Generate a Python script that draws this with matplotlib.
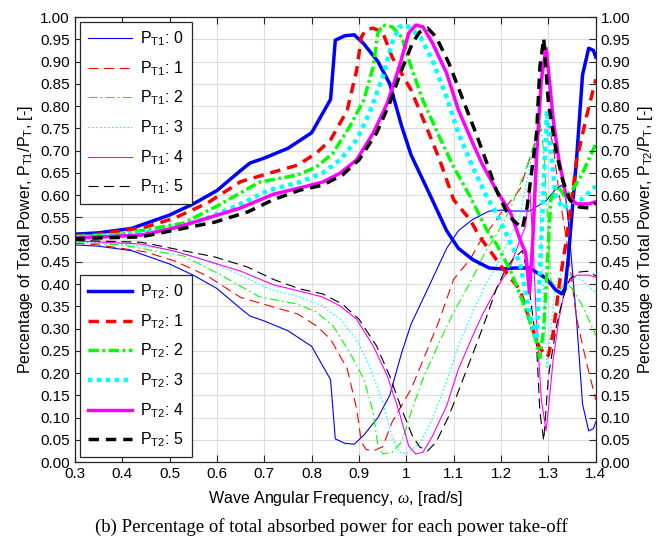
import numpy as np
import matplotlib
matplotlib.use('Agg')
import matplotlib.pyplot as plt

plt.rcParams['font.family'] = ['Liberation Sans', 'DejaVu Sans']
plt.rcParams['mathtext.fontset'] = 'custom'
plt.rcParams['mathtext.rm'] = 'Liberation Sans'
plt.rcParams['mathtext.it'] = 'Liberation Serif:italic'

# frequency grids (rad/s), one per take-off setting
w_0 = [0.30, 0.35, 0.42, 0.50, 0.55, 0.60, 0.65, 0.67, 0.70, 0.75, 0.80, 0.84, 0.85, 0.87, 0.89, 0.91,
       0.94, 0.965, 0.99, 1.01, 1.05, 1.085, 1.11, 1.14, 1.175, 1.20, 1.23, 1.26, 1.295, 1.315, 1.328,
       1.335, 1.342, 1.36, 1.372, 1.385, 1.395, 1.40]
w_1 = [0.30, 0.35, 0.45, 0.51, 0.58, 0.65, 0.72, 0.77, 0.81, 0.84, 0.875, 0.895, 0.905, 0.915, 0.93,
       0.95, 0.97, 1.01, 1.045, 1.07, 1.10, 1.135, 1.155, 1.18, 1.20, 1.24, 1.265, 1.28, 1.296, 1.30,
       1.31, 1.323, 1.338, 1.36, 1.38, 1.40]
w_2 = [0.30, 0.40, 0.46, 0.53, 0.60, 0.65, 0.69, 0.77, 0.81, 0.845, 0.88, 0.91, 0.93, 0.94, 0.95,
       0.97, 0.99, 1.01, 1.035, 1.07, 1.10, 1.135, 1.17, 1.19, 1.22, 1.255, 1.275, 1.282, 1.29, 1.298,
       1.305, 1.32, 1.335, 1.35, 1.37, 1.40]
w_3 = [0.30, 0.40, 0.49, 0.57, 0.64, 0.71, 0.775, 0.823, 0.86, 0.895, 0.922, 0.95, 0.97, 0.985, 1.00,
       1.03, 1.055, 1.085, 1.11, 1.14, 1.17, 1.19, 1.21, 1.24, 1.26, 1.275, 1.285, 1.297, 1.305, 1.315,
       1.33, 1.35, 1.37, 1.39, 1.40]
w_4 = [0.30, 0.44, 0.51, 0.58, 0.65, 0.72, 0.775, 0.823, 0.86, 0.895, 0.93, 0.96, 0.985, 1.005, 1.02,
       1.035, 1.055, 1.085, 1.11, 1.14, 1.16, 1.19, 1.22, 1.24, 1.252, 1.26, 1.267, 1.275, 1.285, 1.295,
       1.30, 1.31, 1.322, 1.337, 1.36, 1.385, 1.40]
w_5 = [0.30, 0.44, 0.51, 0.595, 0.665, 0.72, 0.775, 0.823, 0.865, 0.90, 0.937, 0.965, 0.99, 1.013,
       1.028, 1.045, 1.063, 1.09, 1.12, 1.15, 1.17, 1.19, 1.21, 1.225, 1.245, 1.255, 1.275, 1.282, 1.29,
       1.30, 1.317, 1.33, 1.345, 1.365, 1.385, 1.40]

# share of total power, PTO 1 (thin lines)
pt1_0 = [0.488, 0.485, 0.475, 0.445, 0.42, 0.39, 0.345, 0.328, 0.317, 0.295, 0.26, 0.185, 0.052, 0.042,
         0.04, 0.06, 0.10, 0.15, 0.245, 0.31, 0.40, 0.48, 0.52, 0.545, 0.564, 0.566, 0.564, 0.564, 0.587,
         0.613, 0.622, 0.61, 0.54, 0.31, 0.13, 0.07, 0.075, 0.09]
pt1_1 = [0.492, 0.488, 0.472, 0.452, 0.418, 0.37, 0.348, 0.333, 0.306, 0.276, 0.21, 0.12, 0.045, 0.028,
         0.025, 0.034, 0.09, 0.164, 0.254, 0.32, 0.411, 0.456, 0.494, 0.53, 0.56, 0.613, 0.697, 0.74,
         0.764, 0.76, 0.71, 0.60, 0.50, 0.32, 0.225, 0.14]
pt1_2 = [0.493, 0.488, 0.476, 0.463, 0.425, 0.395, 0.371, 0.355, 0.337, 0.306, 0.247, 0.187, 0.112,
         0.036, 0.018, 0.022, 0.045, 0.112, 0.187, 0.27, 0.337, 0.404, 0.479, 0.51, 0.57, 0.665, 0.733,
         0.766, 0.70, 0.55, 0.41, 0.38, 0.403, 0.39, 0.355, 0.285]
pt1_3 = [0.495, 0.49, 0.479, 0.456, 0.425, 0.389, 0.371, 0.351, 0.321, 0.276, 0.216, 0.135, 0.058,
         0.022, 0.018, 0.045, 0.097, 0.18, 0.261, 0.337, 0.404, 0.44, 0.485, 0.553, 0.665, 0.726, 0.50,
         0.21, 0.30, 0.40, 0.43, 0.415, 0.41, 0.39, 0.38]
pt1_4 = [0.497, 0.49, 0.474, 0.452, 0.429, 0.398, 0.384, 0.371, 0.351, 0.321, 0.261, 0.193, 0.112,
         0.036, 0.018, 0.022, 0.058, 0.126, 0.209, 0.283, 0.33, 0.389, 0.44, 0.50, 0.53, 0.62, 0.50, 0.31,
         0.14, 0.07, 0.12, 0.23, 0.32, 0.40, 0.42, 0.42, 0.415]
pt1_5 = [0.498, 0.494, 0.479, 0.461, 0.438, 0.41, 0.389, 0.378, 0.355, 0.321, 0.261, 0.193, 0.119,
         0.058, 0.034, 0.025, 0.045, 0.104, 0.187, 0.27, 0.328, 0.389, 0.434, 0.456, 0.475, 0.427, 0.261,
         0.112, 0.048, 0.193, 0.306, 0.366, 0.411, 0.427, 0.429, 0.418]

# share of total power, PTO 2 (thick lines)
pt2_0 = [0.512, 0.515, 0.525, 0.555, 0.58, 0.61, 0.655, 0.672, 0.683, 0.705, 0.74, 0.815, 0.948, 0.958,
         0.96, 0.94, 0.90, 0.85, 0.755, 0.69, 0.60, 0.52, 0.48, 0.455, 0.436, 0.434, 0.436, 0.436, 0.413,
         0.387, 0.378, 0.39, 0.46, 0.69, 0.87, 0.93, 0.925, 0.91]
pt2_1 = [0.508, 0.512, 0.528, 0.548, 0.582, 0.63, 0.652, 0.667, 0.694, 0.724, 0.79, 0.88, 0.955, 0.972,
         0.975, 0.966, 0.91, 0.836, 0.746, 0.68, 0.589, 0.544, 0.506, 0.47, 0.44, 0.387, 0.303, 0.26,
         0.236, 0.24, 0.29, 0.40, 0.50, 0.68, 0.775, 0.86]
pt2_2 = [0.507, 0.512, 0.524, 0.537, 0.575, 0.605, 0.629, 0.645, 0.663, 0.694, 0.753, 0.813, 0.888,
         0.964, 0.982, 0.978, 0.955, 0.888, 0.813, 0.73, 0.663, 0.596, 0.521, 0.49, 0.43, 0.335, 0.267,
         0.234, 0.30, 0.45, 0.59, 0.62, 0.597, 0.61, 0.645, 0.715]
pt2_3 = [0.505, 0.51, 0.521, 0.544, 0.575, 0.611, 0.629, 0.649, 0.679, 0.724, 0.784, 0.865, 0.942,
         0.978, 0.982, 0.955, 0.903, 0.82, 0.739, 0.663, 0.596, 0.56, 0.515, 0.447, 0.335, 0.274, 0.50,
         0.79, 0.70, 0.60, 0.57, 0.585, 0.59, 0.61, 0.62]
pt2_4 = [0.503, 0.51, 0.526, 0.548, 0.571, 0.602, 0.616, 0.629, 0.649, 0.679, 0.739, 0.807, 0.888,
         0.964, 0.982, 0.978, 0.942, 0.874, 0.791, 0.717, 0.67, 0.611, 0.56, 0.50, 0.47, 0.38, 0.50, 0.69,
         0.86, 0.93, 0.88, 0.77, 0.68, 0.60, 0.58, 0.58, 0.585]
pt2_5 = [0.502, 0.506, 0.521, 0.539, 0.562, 0.59, 0.611, 0.622, 0.645, 0.679, 0.739, 0.807, 0.881,
         0.942, 0.966, 0.975, 0.955, 0.896, 0.813, 0.73, 0.672, 0.611, 0.566, 0.544, 0.525, 0.573, 0.739,
         0.888, 0.952, 0.807, 0.694, 0.634, 0.589, 0.573, 0.571, 0.582]

case_labels = ['0', '1', '2', '3', '4', '5']
x_ticks = [0.3, 0.4, 0.5, 0.6, 0.7, 0.8, 0.9, 1.0, 1.1, 1.2, 1.3, 1.4]
x_tick_labels = ['0.3', '0.4', '0.5', '0.6', '0.7', '0.8', '0.9', '1', '1.1', '1.2', '1.3', '1.4']

omegas = [w_0, w_1, w_2, w_3, w_4, w_5]
pt1 = [pt1_0, pt1_1, pt1_2, pt1_3, pt1_4, pt1_5]
pt2 = [pt2_0, pt2_1, pt2_2, pt2_3, pt2_4, pt2_5]
colors = ['#0000ff', '#ff0000', '#00ff00', '#00ffff', '#ff00ff', '#000000']
thin_dash = [None, (9, 5), (8, 3, 1.5, 3), (1.5, 2), None, (9, 5)]
thick_dash = [None, (3, 2), (3, 1, 0.8, 1), (1, 1), None, (3, 2)]

fig = plt.figure(figsize=(6.62, 5.50), dpi=100)
ax = fig.add_axes([0.113, 0.16, 0.787, 0.809])

thin_lines = []
for i in range(6):
    ln, = ax.plot(omegas[i], pt1[i], color=colors[i], lw=0.8,
                  label=r'P$_{\mathrm{T1}}$: ' + case_labels[i])
    if thin_dash[i] is not None:
        ln.set_dashes(thin_dash[i])
    thin_lines.append(ln)

thick_lines = []
for i in range(6):
    lw = 3.2 if i == 3 else 2.5
    ln, = ax.plot(omegas[i], pt2[i], color=colors[i], lw=lw,
                  label=r'P$_{\mathrm{T2}}$: ' + case_labels[i])
    if thick_dash[i] is not None:
        ln.set_dashes(thick_dash[i])
    thick_lines.append(ln)

ax.set_xlim(0.3, 1.4)
ax.set_ylim(0, 1)
ax.set_xticks(x_ticks)
ax.set_xticklabels(x_tick_labels)
y_ticks = np.arange(0, 1.0001, 0.05)
ax.set_yticks(y_ticks)
ax.set_yticklabels(['%.2f' % v for v in y_ticks])
ax.grid(True, color='#dcdcdc', lw=0.8)
ax.set_axisbelow(True)
ax.tick_params(direction='in', top=True, right=False, labelsize=11, length=5, color='#262626')
for s in ax.spines.values():
    s.set_color('#262626')
    s.set_linewidth(0.9)

ax.set_xlabel(r'Wave Angular Frequency, $\omega$, [rad/s]', fontsize=11.5, labelpad=6)
ax.set_ylabel(r'Percentage of Total Power, P$_{\mathrm{T1}}$/P$_{\mathrm{T}}$, [-]', fontsize=11.5, labelpad=4)

ax2 = ax.twinx()
ax2.set_ylim(0, 1)
ax2.set_yticks(y_ticks)
ax2.set_yticklabels(['%.2f' % v for v in y_ticks])
ax2.tick_params(direction='in', labelsize=11, length=5, color='#262626')
ax2.set_ylabel(r'Percentage of Total Power, P$_{\mathrm{T2}}$/P$_{\mathrm{T}}$, [-]', fontsize=11.5, labelpad=4)
for s in ax2.spines.values():
    s.set_visible(False)

leg_kw = dict(borderaxespad=0.3, fontsize=11.5, handlelength=2.8, labelspacing=0.7,
              handletextpad=0.5, borderpad=0.5, fancybox=False, edgecolor='#262626', framealpha=1)
leg1 = ax2.legend(handles=thin_lines, loc='upper left', bbox_to_anchor=(0, 1), **leg_kw)
leg1.get_frame().set_linewidth(0.9)
ax2.add_artist(leg1)
leg2 = ax2.legend(handles=thick_lines, loc='lower left', bbox_to_anchor=(0, 0), **leg_kw)
leg2.get_frame().set_linewidth(0.9)

fig.text(0.5, 0.025, '(b) Percentage of total absorbed power for each power take-off',
         ha='center', va='bottom', fontsize=13.5, family='Liberation Serif')

fig.savefig('out.png', dpi=100)
